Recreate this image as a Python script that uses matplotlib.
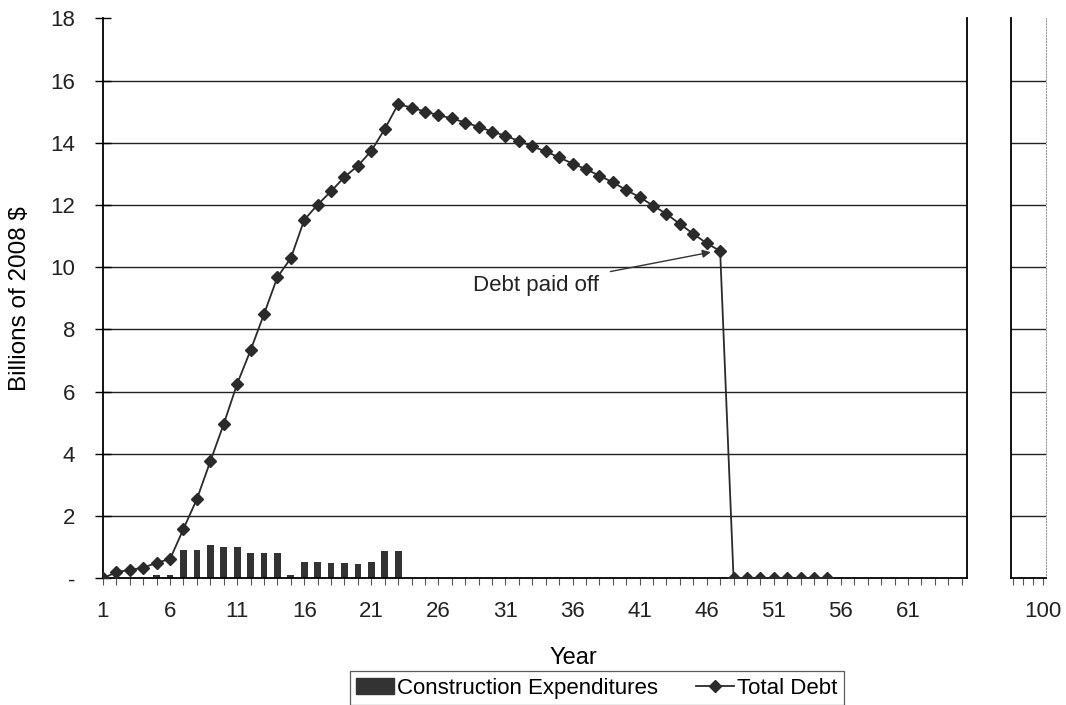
import numpy as np
import matplotlib.pyplot as plt
from matplotlib.patches import Patch
from matplotlib.lines import Line2D

plt.rcParams['font.family'] = ['Liberation Sans', 'DejaVu Sans']

# Data (billions of 2008 $)
years_debt = np.arange(1, 56)
total_debt = [0.0, 0.2, 0.27, 0.34, 0.5, 0.62, 1.59, 2.55, 3.76, 4.96,
              6.25, 7.33, 8.49, 9.68, 10.29, 11.52, 12.01, 12.44, 12.9, 13.26,
              13.74, 14.44, 15.24, 15.13, 15.0, 14.89, 14.78, 14.65, 14.51, 14.36,
              14.22, 14.06, 13.88, 13.72, 13.53, 13.33, 13.15, 12.94, 12.73, 12.48,
              12.25, 11.98, 11.71, 11.39, 11.07, 10.77, 10.52, 0.0, 0.0, 0.0,
              0.0, 0.0, 0.0, 0.0, 0.0]

years_con = np.arange(1, 24)
construction = [0.0, 0.01, 0.02, 0.02, 0.1, 0.12, 0.91, 0.91, 1.07, 1.02,
                1.02, 0.8, 0.8, 0.8, 0.1, 0.54, 0.54, 0.5, 0.5, 0.47,
                0.54, 0.88, 0.88]

yticks = np.arange(0, 19, 2)
ytick_labels = ['-' if v == 0 else str(v) for v in yticks]
xtick_major = np.arange(1, 66, 5)

INK = '#2a2a2a'
FS = 16

fig = plt.figure(figsize=(10.66, 7.05), dpi=100)
ax = fig.add_axes([103 / 1066, 1 - 578.3 / 705, (967 - 103) / 1066, (578.3 - 18.3) / 705])
ax2 = fig.add_axes([1011 / 1066, 1 - 578.3 / 705, (1046 - 1011) / 1066, (578.3 - 18.3) / 705])

# main panel
ax.bar(years_con, construction, width=0.5, color='#333333', zorder=2)
ax.plot(years_debt, total_debt, color=INK, lw=1.3, marker='D', ms=6.5,
        mfc=INK, mec=INK, zorder=3)

ax.set_xlim(1, 65.4)
ax.set_ylim(0, 18)
ax.set_yticks(yticks)
ax.set_yticklabels(ytick_labels, fontsize=FS, color='#222222')
ax.set_xticks(xtick_major)
ax.set_xticklabels([str(v) for v in xtick_major], fontsize=FS, color='#222222')
ax.set_xticks(np.arange(1, 66), minor=True)
ax.tick_params(axis='x', which='both', direction='out', length=5, width=0.8,
               color='#555555', pad=11)
ax.tick_params(axis='y', direction='inout', length=12, width=1, pad=14)
for v in yticks[1:-1]:
    ax.axhline(v, color='#222222', lw=1.0, zorder=1)
ax.spines['top'].set_visible(False)
ax.spines['right'].set_linewidth(1.3)
ax.spines['left'].set_linewidth(1.3)
ax.spines['bottom'].set_linewidth(1.3)
ax.set_ylabel('Billions of 2008 $', fontsize=17.5, labelpad=14)

ax.annotate('Debt paid off', xy=(46.5, 10.5), xytext=(38.0, 9.4),
            fontsize=FS, ha='right', va='center', color='#222222',
            arrowprops=dict(arrowstyle='-|>', color='#333333', lw=1.0,
                            mutation_scale=12, shrinkA=6, shrinkB=2))

# right (broken axis) panel
ax2.set_xlim(96.8, 100.3)
ax2.set_ylim(0, 18)
for v in yticks[1:-1]:
    ax2.axhline(v, color='#222222', lw=1.0)
ax2.set_yticks([])
ax2.set_xticks([100])
ax2.set_xticklabels(['100'], fontsize=FS, color='#222222')
ax2.set_xticks([97, 98, 99, 100], minor=True)
ax2.tick_params(axis='x', which='both', direction='out', length=5, width=0.8,
                color='#555555', pad=11)
ax2.spines['top'].set_visible(False)
ax2.spines['right'].set_linestyle(':')
ax2.spines['right'].set_color('#999999')
ax2.spines['left'].set_linewidth(1.3)
ax2.spines['bottom'].set_linewidth(1.3)

fig.text(573 / 1066, 1 - 658 / 705, 'Year', fontsize=17, ha='center', va='center')

handles = [Patch(facecolor='#333333', edgecolor='#333333'),
           Line2D([], [], color=INK, lw=1.3, marker='D', ms=6)]
leg = fig.legend(handles, ['Construction Expenditures', 'Total Debt'],
                 loc='upper center', bbox_to_anchor=(597 / 1066, 1 - 671 / 705),
                 ncol=2, fontsize=FS, frameon=True, fancybox=False,
                 edgecolor='#333333', handlelength=1.7, handletextpad=0.15,
                 columnspacing=1.7, borderpad=0.3, borderaxespad=0)
leg.get_frame().set_linewidth(0.9)

fig.savefig('out.png', dpi=100, facecolor='white')
